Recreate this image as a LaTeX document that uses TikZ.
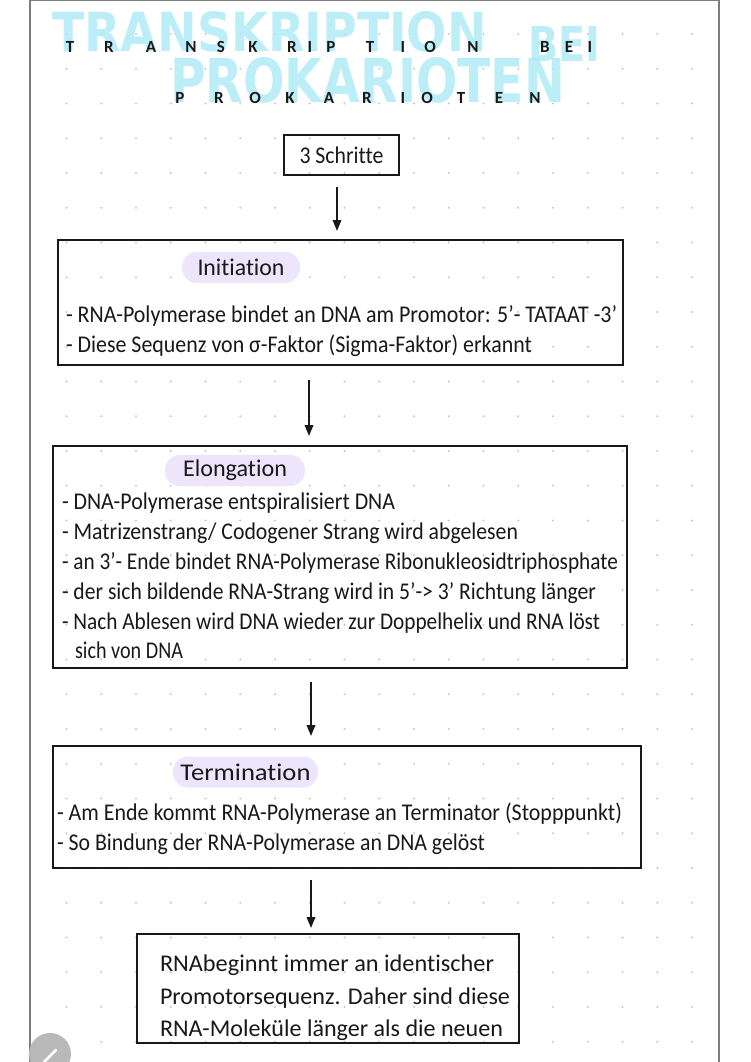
\documentclass[tikz,border=0pt]{standalone}
\usepackage{fontspec}
\setmainfont{Carlito}[Ligatures=NoCommon]
\newfontfamily\titlefont{DejaVu Sans}
\newfontfamily\cyfont{DejaVu Sans Condensed}
\usepackage{graphicx}
\usetikzlibrary{arrows.meta}
\definecolor{framec}{RGB}{125,125,125}
\definecolor{lav}{RGB}{237,229,251}
\definecolor{cyanl}{RGB}{172,234,246}
\definecolor{dotc}{RGB}{200,200,200}
\definecolor{ink}{RGB}{25,25,25}
\newcommand\fitw[2]{\resizebox{#1pt}{\height}{#2}}
\begin{document}
\begin{tikzpicture}[x=1pt,y=-1pt,
  every node/.style={inner sep=0pt,outer sep=0pt,text=ink},
  box/.style={draw=ink,line width=1.4pt,rectangle},
  hl/.style={fill=lav,rounded corners=15pt,minimum height=31pt},
  arr/.style={-{Triangle[length=11pt,width=8.5pt]},line width=2pt,draw=ink},
  bl/.style={anchor=base west,font=\fontsize{24}{28}\selectfont},
  hf/.style={font=\fontsize{24}{28}\selectfont},
  tl/.style={font=\bfseries\fontsize{17}{17}\selectfont},
  cy/.style={anchor=north west,text=cyanl,opacity=0.8}]
\useasboundingbox (0,0) rectangle (750,1062);
\fill[white] (0,0) rectangle (750,1062);
% dot grid
\foreach \i in {0,...,18}{\foreach \j in {0,...,29}{
  \fill[dotc] (692-34.75*\i,34+34.75*\j) circle (1.1pt);}}
% page frame
\draw[framec,line width=2pt] (30,0) -- (30,1062);
\draw[framec,line width=2pt] (719,0) -- (719,1062);
\draw[framec,line width=1pt] (30,0.5) -- (719,0.5);
% title, cyan
\node[cy] (tc1) at (52,12) {\resizebox{435pt}{40pt}{\cyfont\bfseries TRANSKRIPTION}};
\node[cy] (tc2) at (528,26) {\resizebox{72pt}{35pt}{\cyfont\bfseries BEI}};
\node[cy] (tc3) at (170,58) {\resizebox{395pt}{45pt}{\cyfont\bfseries PROKARIOTEN}};
% title, black letters
\foreach \x/\l [count=\k] in {70/T,109/R,151/A,191/N,221/S,253/K,292/R,310/I,331/P,370/T,403/I,430/O,473/N,545/B,569/E,590/I}
  \node[tl] (ta\k) at (\x,47) {\l};
\foreach \x/\l [count=\k] in {180/P,219/R,255/O,290/K,329/A,367/R,403/I,427/O,461/T,499/E,535/N}
  \node[tl] (tb\k) at (\x,98) {\l};
% 3 Schritte
\node[box,minimum width=115pt,minimum height=40pt,hf] (s3) at (341.5,155)
  {\fitw{84}{3 Schritte}};
% Initiation
\node[box,minimum width=565pt,minimum height=125pt] (init) at (340.5,302.5) {};
\node[hl,hf,minimum width=118pt] (initl) at (241,267.5) {\fitw{87}{Initiation}};
\node[bl] (i1) at (66,322) {\fitw{551}{- RNA-Polymerase bindet an DNA am Promotor: 5'- TATAAT -3'}};
\node[bl] (i2) at (66,352) {\fitw{466}{- Diese Sequenz von σ-Faktor (Sigma-Faktor) erkannt}};
% Elongation
\node[box,minimum width=574pt,minimum height=222pt] (elo) at (340,557) {};
\node[hl,hf,minimum width=140pt] (elol) at (235,470.5) {\fitw{104}{Elongation}};
\node[bl] (e1) at (62,509) {\fitw{333}{- DNA-Polymerase entspiralisiert DNA}};
\node[bl] (e2) at (62,539) {\fitw{456}{- Matrizenstrang/ Codogener Strang wird abgelesen}};
\node[bl] (e3) at (62,569) {\fitw{556}{- an 3'- Ende bindet RNA-Polymerase Ribonukleosidtriphosphate}};
\node[bl] (e4) at (62,599) {\fitw{534}{- der sich bildende RNA-Strang wird in 5'-> 3' Richtung länger}};
\node[bl] (e5) at (62,629) {\fitw{538}{- Nach Ablesen wird DNA wieder zur Doppelhelix und RNA löst}};
\node[bl] (e6) at (75,658) {\fitw{108}{sich von DNA}};
% Termination
\node[box,minimum width=588pt,minimum height=122pt] (term) at (347,807) {};
\node[hl,hf,minimum width=145pt] (terml) at (245.5,772) {\fitw{130}{Termination}};
\node[bl] (t1) at (57,820) {\fitw{565}{- Am Ende kommt RNA-Polymerase an Terminator (Stopppunkt)}};
\node[bl] (t2) at (57,850) {\fitw{428}{- So Bindung der RNA-Polymerase an DNA gelöst}};
% final box
\node[box,minimum width=382pt,minimum height=109pt] (fin) at (328,988.5) {};
\node[bl] (f1) at (160,971) {\fitw{334}{RNAbeginnt immer an identischer}};
\node[bl] (f2) at (160,1004) {\fitw{350}{Promotorsequenz. Daher sind diese}};
\node[bl] (f3) at (160,1036) {\fitw{343}{RNA-Moleküle länger als die neuen}};
% arrows
\coordinate (c1) at (337,0);
\coordinate (c2) at (309,0);
\coordinate (c3) at (311,0);
\draw[arr,shorten <=12pt,shorten >=9pt] (s3.south -| c1) -- (init.north -| c1);
\draw[arr,shorten <=15pt,shorten >=10pt] (init.south -| c2) -- (elo.north -| c2);
\draw[arr,shorten <=14pt,shorten >=10pt] (elo.south -| c3) -- (term.north -| c3);
\draw[arr,shorten <=12pt,shorten >=6pt] (term.south -| c3) -- (fin.north -| c3);
% edit button
\fill[gray!55] (50,1054) circle (21pt);
\draw[white,line width=2.5pt,line cap=round] (44,1062) -- (56,1050);
\end{tikzpicture}
\end{document}
